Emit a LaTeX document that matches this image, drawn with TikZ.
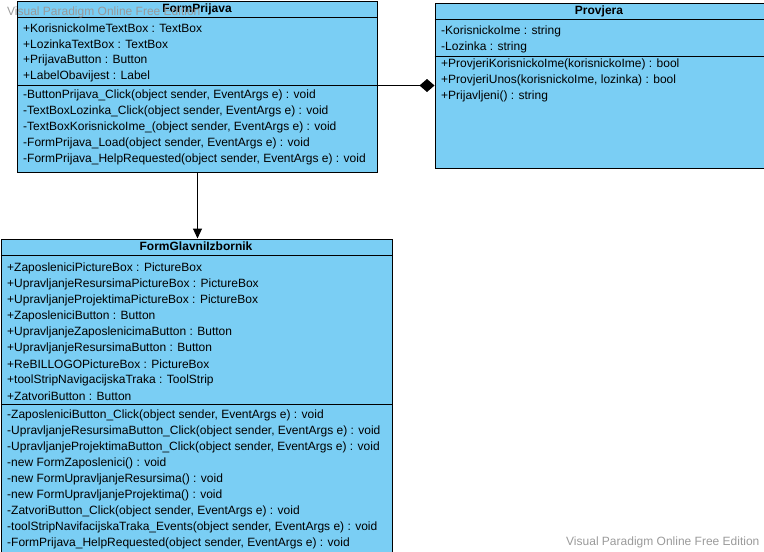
\documentclass[tikz,border=0pt]{standalone}
\usepackage{fontspec}
\setmainfont{Liberation Sans}
\usetikzlibrary{arrows.meta}
\definecolor{classfill}{HTML}{7ACEF4}
\definecolor{markgray}{HTML}{9A9A9A}
\begin{document}
\begin{tikzpicture}[x=1pt,y=-1pt,
  classbox/.style={draw=black, line width=1pt, fill=classfill, inner sep=0pt, anchor=north west},
  member/.style={anchor=west, inner sep=0pt, font=\fontsize{12}{14}\selectfont},
  title/.style={anchor=center, inner sep=0pt, font=\fontsize{12}{14}\selectfont\bfseries},
  sep/.style={line width=1pt},
  wmark/.style={anchor=west, inner sep=0pt, text=markgray, font=\fontsize{12}{14}\selectfont},
  conn/.style={line width=1pt}]
\useasboundingbox (0,0) rectangle (764,552);

% FormPrijava
\node[classbox, minimum width=360pt, minimum height=171pt] (prijava) at (17,1) {};
\node[title] (prijavaT) at (197,9.5) {FormPrijava};
\draw[sep] (17,17.5) -- (377,17.5);
\draw[sep] (17,85.5) -- (377,85.5);
\node[member] (p1) at (23,28) {+KorisnickoImeTextBox : TextBox};
\node[member] (p2) at (23,44) {+LozinkaTextBox : TextBox};
\node[member] (p3) at (23,60) {+PrijavaButton : Button};
\node[member] (p4) at (23,76) {+LabelObavijest : Label};
\node[member] (p5) at (23,95) {-ButtonPrijava\_Click(object sender, EventArgs e) : void};
\node[member] (p6) at (23,111) {-TextBoxLozinka\_Click(object sender, EventArgs e) : void};
\node[member] (p7) at (23,127) {-TextBoxKorisnickoIme\_(object sender, EventArgs e) : void};
\node[member] (p8) at (23,143) {-FormPrijava\_Load(object sender, EventArgs e) : void};
\node[member] (p9) at (23,159) {-FormPrijava\_HelpRequested(object sender, EventArgs e) : void};

% Provjera
\node[classbox, minimum width=329pt, minimum height=165pt] (provjera) at (434.5,2.5) {};
\node[title] (provjeraT) at (599,11) {Provjera};
\draw[sep] (434.5,19) -- (763.5,19);
\draw[sep] (434.5,56.5) -- (763.5,56.5);
\node[member] (v1) at (441,31) {-KorisnickoIme : string};
\node[member] (v2) at (441,47) {-Lozinka : string};
\node[member] (v3) at (441,64) {+ProvjeriKorisnickoIme(korisnickoIme) : bool};
\node[member] (v4) at (441,80) {+ProvjeriUnos(korisnickoIme, lozinka) : bool};
\node[member] (v5) at (441,96) {+Prijavljeni() : string};

% FormGlavniIzbornik
\node[classbox, minimum width=391pt, minimum height=313pt] (glavni) at (0.5,238.5) {};
\node[title] (glavniT) at (196,246.5) {FormGlavniIzbornik};
\draw[sep] (0.5,255) -- (391.5,255);
\draw[sep] (0.5,404.5) -- (391.5,404.5);
\node[member] (g1) at (7,268) {+ZaposleniciPictureBox : PictureBox};
\node[member] (g2) at (7,284) {+UpravljanjeResursimaPictureBox : PictureBox};
\node[member] (g3) at (7,300) {+UpravljanjeProjektimaPictureBox : PictureBox};
\node[member] (g4) at (7,316) {+ZaposleniciButton : Button};
\node[member] (g5) at (7,332) {+UpravljanjeZaposlenicimaButton : Button};
\node[member] (g6) at (7,348) {+UpravljanjeResursimaButton : Button};
\node[member] (g7) at (7,364) {+ReBILLOGOPictureBox : PictureBox};
\node[member] (g8) at (7,380) {+toolStripNavigacijskaTraka : ToolStrip};
\node[member] (g9) at (7,396) {+ZatvoriButton : Button};
\node[member] (m1) at (7,415) {-ZaposleniciButton\_Click(object sender, EventArgs e) : void};
\node[member] (m2) at (7,431) {-UpravljanjeResursimaButton\_Click(object sender, EventArgs e) : void};
\node[member] (m3) at (7,447) {-UpravljanjeProjektimaButton\_Click(object sender, EventArgs e) : void};
\node[member] (m4) at (7,463) {-new FormZaposlenici() : void};
\node[member] (m5) at (7,479) {-new FormUpravljanjeResursima() : void};
\node[member] (m6) at (7,495) {-new FormUpravljanjeProjektima() : void};
\node[member] (m7) at (7,511) {-ZatvoriButton\_Click(object sender, EventArgs e) : void};
\node[member] (m8) at (7,527) {-toolStripNavifacijskaTraka\_Events(object sender, EventArgs e) : void};
\node[member] (m9) at (7,543) {-FormPrijava\_HelpRequested(object sender, EventArgs e) : void};

% Composition: FormPrijava -- Provjera
\draw[conn, -{Diamond[length=15pt, width=13pt, fill=black]}]
  (prijava.east |- 0,85.5) -- (provjera.west |- 0,85.5);

% Navigation: FormPrijava -> FormGlavniIzbornik
\draw[conn, -{Triangle[length=10pt, width=9pt, fill=black]}]
  (prijava.south) -- (prijava.south |- glavni.north);

% Edition marks
\node[wmark] (wm1) at (7,12) {Visual Paradigm Online Free Edition};
\node[wmark] (wm2) at (566,542) {Visual Paradigm Online Free Edition};
\end{tikzpicture}
\end{document}
